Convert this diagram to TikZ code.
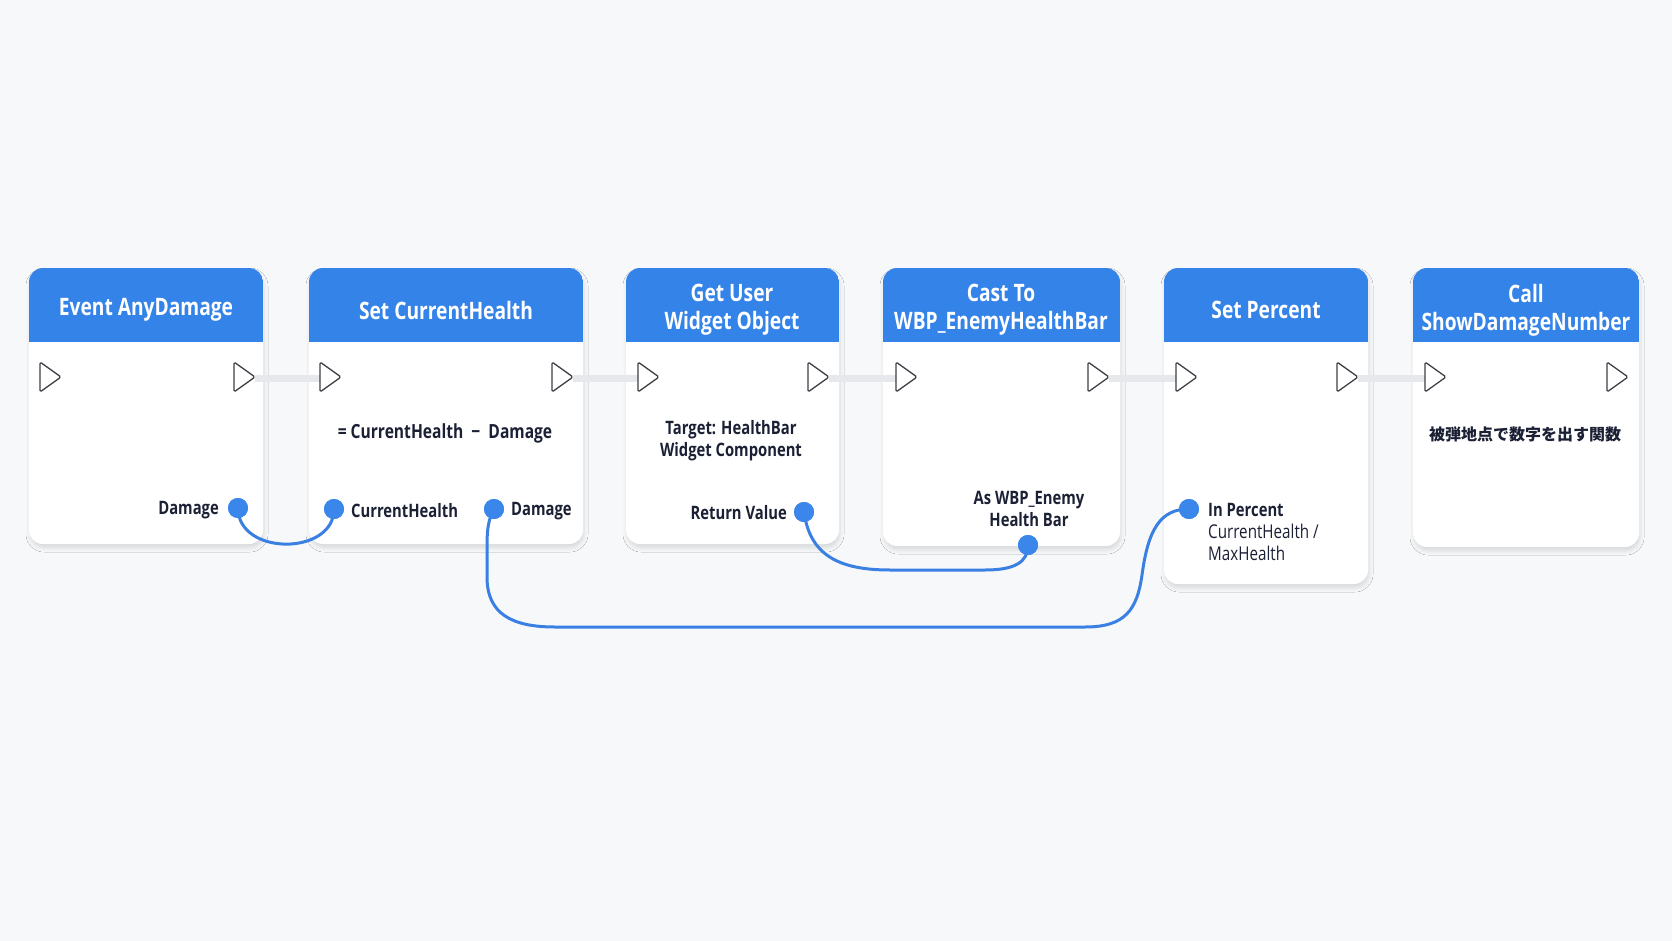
\documentclass[tikz,border=0pt]{standalone}
\usepackage{fontspec}
\setmainfont{Open Sans}[FakeStretch=0.8]
\newfontfamily\cjk{Noto Sans CJK JP}
\usetikzlibrary{shadows.blur,fit}
\definecolor{bg}{HTML}{F7F8FA}
\definecolor{hdr}{HTML}{3483E8}
\definecolor{pinc}{HTML}{3A86EB}
\definecolor{wire}{HTML}{3A80E2}
\definecolor{ink}{HTML}{1B2035}
\definecolor{execline}{HTML}{E6E8EC}
\definecolor{execstroke}{HTML}{3C3F45}
\newcommand\blockbox[4]{%
  \node[box, fit={(#2,268) (#3,#4)}] (#1) {};
  \begin{scope}
    \clip[rounded corners=14pt] (#2,268) rectangle (#3,#4);
    \fill[hdr] (#2,268) rectangle (#3,342);
  \end{scope}}
\newcommand\exectri[1]{%
  \draw[exectri] (#1,362) -- ++(21,15) -- ++(-21,15) -- cycle;}
\begin{document}
\begin{tikzpicture}[x=1pt,y=-1pt,
  box/.style={draw=none, fill=white, rounded corners=14pt, inner sep=0pt,
    blur shadow={shadow xshift=1pt, shadow yshift=-4pt, shadow blur radius=4pt, shadow opacity=12}},
  title/.style={text=white, font=\fontsize{24}{28}\selectfont\bfseries, align=center, inner sep=0pt},
  lbl/.style={text=ink, font=\fontsize{18.5}{22}\selectfont\bfseries, inner sep=0pt},
  body/.style={text=ink, font=\fontsize{19}{22}\selectfont, align=center, inner sep=0pt},
  exectri/.style={draw=execstroke, fill=white, line width=1.3pt, rounded corners=1.5pt, line join=round},
  execwire/.style={draw=execline, line width=7pt},
  datapin/.style={circle, fill=pinc, minimum size=20pt, inner sep=0pt},
  datawire/.style={draw=wire, line width=3pt, line cap=round}]
\useasboundingbox (0,0) rectangle (1672,941);
\fill[bg] (0,0) rectangle (1672,941);

% boxes
\blockbox{b1}{29}{263}{544}
\blockbox{b2}{309}{583}{544}
\blockbox{b3}{626}{839}{544}
\blockbox{b4}{883}{1120}{546}
\blockbox{b5}{1164}{1368}{584}
\blockbox{b6}{1413}{1639}{547}

% titles
\node[title] (t1) at (146,310) {Event AnyDamage};
\node[title] (t2) at (446,310) {Set CurrentHealth};
\node[title] (t3) at (732,310) {Get User\\Widget Object};
\node[title] (t4) at (1001,310) {Cast To\\WBP\_EnemyHealthBar};
\node[title] (t5) at (1266,310) {Set Percent};
\node[title] (t6) at (1526,310) {Call\\ShowDamageNumber};

% exec connectors
\coordinate (o1) at (255,378); \coordinate (i2) at (320,378);
\coordinate (o2) at (573,378); \coordinate (i3) at (638,378);
\coordinate (o3) at (829,378); \coordinate (i4) at (896,378);
\coordinate (o4) at (1109,378); \coordinate (i5) at (1176,378);
\coordinate (o5) at (1358,378); \coordinate (i6) at (1425,378);
\draw[execwire] (o1) -- (i2);
\draw[execwire] (o2) -- (i3);
\draw[execwire] (o3) -- (i4);
\draw[execwire] (o4) -- (i5);
\draw[execwire] (o5) -- (i6);

% exec triangles
\exectri{40}\exectri{234}
\exectri{320}\exectri{552}
\exectri{638}\exectri{808}
\exectri{896}\exectri{1088}
\exectri{1176}\exectri{1337}
\exectri{1425}\exectri{1607}

% body texts
\node[body, font=\fontsize{19.5}{22}\selectfont\bfseries] (x2) at (445,433) {= CurrentHealth \ −\ \ Damage};
\node[body, font=\fontsize{18.5}{22}\selectfont\bfseries] (x3) at (731,441) {Target: HealthBar\\Widget Component};
\node[body] (x6) at (1525,434) {\fontsize{16}{20}\selectfont\cjk\bfseries 被弾地点で数字を出す関数};

% data pins
\node[datapin] (p1) at (238,508) {};
\node[datapin] (p2a) at (334,509) {};
\node[datapin] (p2b) at (494,509) {};
\node[datapin] (p3) at (804,512) {};
\node[datapin] (p4) at (1028,545) {};
\node[datapin] (p5) at (1189,509) {};

% wires
\draw[datawire] (p1.center) .. controls (238,556) and (334,556) .. (p2a.center);
\draw[datawire] (p2b.center) .. controls (488,520) and (487,530) .. (487,548)
   -- (487,577) .. controls (487,614) and (512,627) .. (555,627)
   -- (1085,627) .. controls (1125,627) and (1137,610) .. (1142,575)
   .. controls (1148,530) and (1160,509) .. (p5.center);
\draw[datawire] (p3.center) .. controls (810,556) and (840,570) .. (890,570)
   -- (985,570) .. controls (1015,570) and (1028,562) .. (p4.center);
\node[datapin] at (p1) {};
\node[datapin] at (p2a) {};
\node[datapin] at (p2b) {};
\node[datapin] at (p3) {};
\node[datapin] at (p4) {};
\node[datapin] at (p5) {};

% pin labels
\node[lbl, anchor=east] (l1) at (219,510) {Damage};
\node[lbl, anchor=west] (l2a) at (351,511) {CurrentHealth};
\node[lbl, anchor=west] (l2b) at (511,511) {Damage};
\node[lbl, anchor=east] (l3) at (787,513) {Return Value};
\node[lbl, align=center] (l4) at (1029,509) {As WBP\_Enemy\\Health Bar};
\node[lbl, anchor=west] (l5) at (1208,510) {In Percent};
\node[body, anchor=north west, align=left] (l5b) at (1208,524) {CurrentHealth /\\MaxHealth};
\end{tikzpicture}
\end{document}
